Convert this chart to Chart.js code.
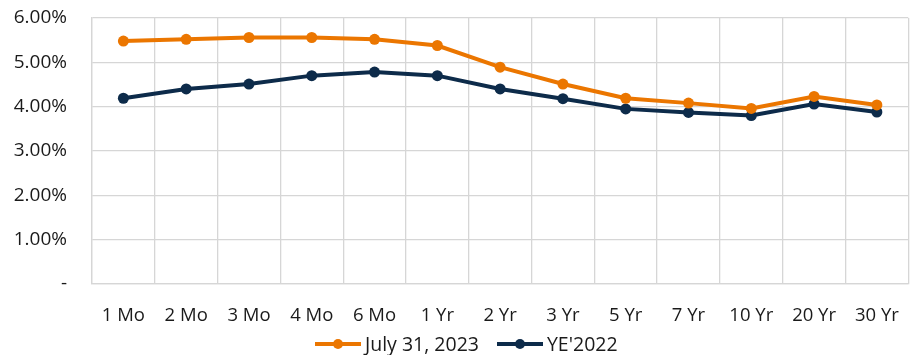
<!DOCTYPE html>
<html>
<head>
<meta charset="utf-8">
<script src="https://cdn.jsdelivr.net/npm/chart.js@4/dist/chart.umd.min.js"></script>
<style>
    html, body { margin: 0; padding: 0; background: #fff; overflow: hidden; }
    .wrap { position: relative; width: 920px; height: 355px; }
    .legend {
        position: absolute; left: 315px; top: 330px;
        display: flex; align-items: center;
        font-family: "Open Sans", sans-serif; font-size: 19.5px; color: #1a1a1a;
    }
    .legend-item { display: flex; align-items: center; margin-right: 18px; }
    .legend-mark { position: relative; width: 46px; height: 4px; margin-right: 4px; }
    .legend-mark::after {
        content: ""; position: absolute; left: 18px; top: -3px;
        width: 10px; height: 10px; border-radius: 50%; background: inherit;
    }
</style>
</head>
<body>
<div class="wrap">
    <canvas id="curveChart" width="920" height="355"></canvas>
    <div id="chart-legend" class="legend"></div>
</div>
<script>
    // Données (taux en %)
    const maturities = ['1 Mo', '2 Mo', '3 Mo', '4 Mo', '6 Mo', '1 Yr', '2 Yr', '3 Yr', '5 Yr', '7 Yr', '10 Yr', '20 Yr', '30 Yr'];
    const july2023 = [5.48, 5.52, 5.56, 5.56, 5.52, 5.38, 4.89, 4.51, 4.19, 4.08, 3.96, 4.23, 4.04];
    const ye2022 = [4.19, 4.40, 4.51, 4.70, 4.78, 4.70, 4.40, 4.18, 3.95, 3.87, 3.80, 4.06, 3.88];
    const seriesNames = ['July 31, 2023', "YE'2022"];
    const yTicks = [0, 1, 2, 3, 4, 5, 6];

    const colors = ['#EB7600', '#0D2B4A'];
    const textColor = '#1a1a1a';
    const fontFamily = '"Open Sans", sans-serif';

    function lineDataset(label, values, color) {
        return {
            label: label,
            data: values,
            borderColor: color,
            backgroundColor: color,
            borderWidth: 4,
            pointRadius: 5.5,
            pointHoverRadius: 5.5,
            pointBorderWidth: 0,
            tension: 0
        };
    }

    const ctx = document.getElementById('curveChart').getContext('2d');
    new Chart(ctx, {
        type: 'line',
        data: {
            labels: maturities,
            datasets: [
                lineDataset(seriesNames[0], july2023, colors[0]),
                lineDataset(seriesNames[1], ye2022, colors[1])
            ]
        },
        options: {
            responsive: false,
            animation: false,
            layout: { padding: { top: 18, right: 4, bottom: 26, left: 0 } },
            plugins: { legend: { display: false }, tooltip: { enabled: false } },
            scales: {
                x: {
                    offset: true,
                    grid: { offset: true, color: '#d6d6d6', lineWidth: 1.3, drawTicks: false },
                    border: { color: '#d6d6d6', width: 1.3 },
                    ticks: { color: textColor, font: { family: fontFamily, size: 18.5 }, padding: 21, maxRotation: 0 },
                    afterFit: scale => { scale.height = 45; }
                },
                y: {
                    min: yTicks[0],
                    max: yTicks[yTicks.length - 1],
                    afterBuildTicks: scale => { scale.ticks = yTicks.map(v => ({ value: v })); },
                    grid: { color: '#d6d6d6', lineWidth: 1.3, drawTicks: false },
                    border: { color: '#d6d6d6', width: 1.3 },
                    ticks: {
                        color: textColor,
                        font: { family: fontFamily, size: 19 },
                        padding: 25,
                        callback: v => v === 0 ? '-' : v.toFixed(2) + '%'
                    },
                    afterFit: scale => {
                        scale.width = 92;
                        scale.paddingTop = 0;
                        scale.paddingBottom = 0;
                    }
                }
            }
        }
    });

    // Légende HTML : trait + point
    const legend = document.getElementById('chart-legend');
    seriesNames.forEach((name, i) => {
        const item = document.createElement('div');
        item.className = 'legend-item';
        item.innerHTML = `<span class="legend-mark" style="background:${colors[i]}"></span><span>${name}</span>`;
        legend.appendChild(item);
    });
</script>
</body>
</html>
